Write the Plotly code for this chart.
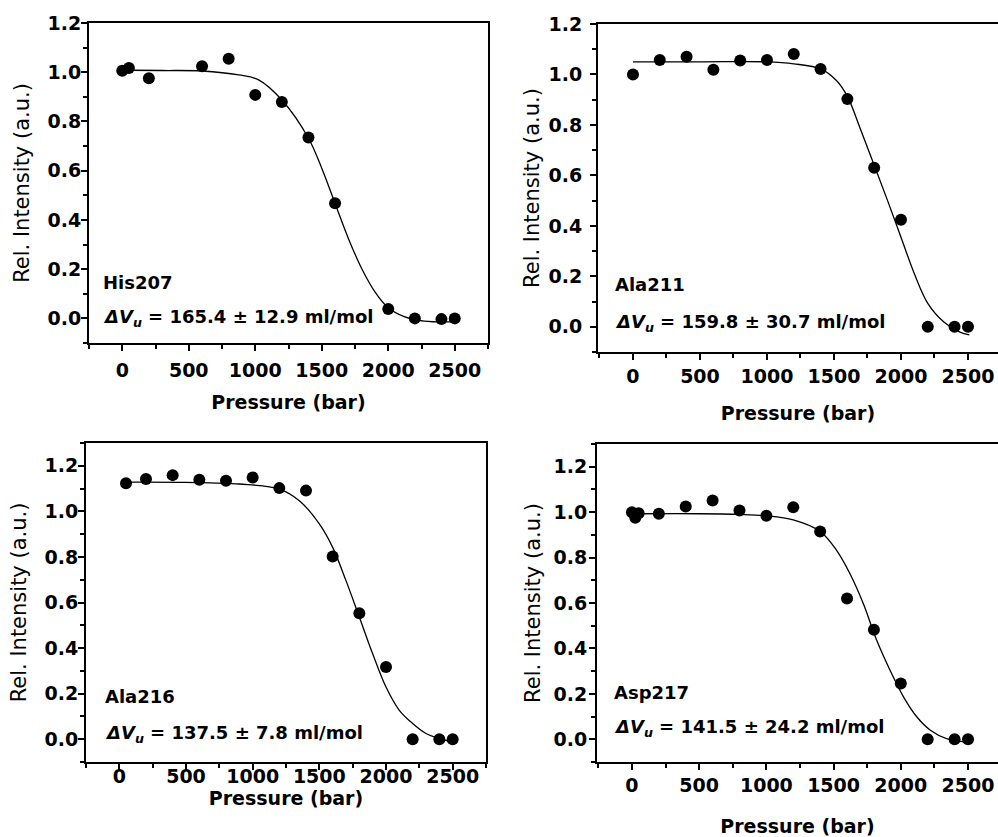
import plotly.graph_objects as go

# measured points (pressure in bar, relative intensity)
his207_p = [0, 50, 200, 600, 800, 1000, 1200, 1400, 1600, 2000, 2200, 2400, 2500]
his207_i = [1.006, 1.017, 0.976, 1.024, 1.055, 0.908, 0.879, 0.735, 0.468, 0.038, 0.0, -0.003, 0.0]
ala211_p = [0, 200, 400, 600, 800, 1000, 1200, 1400, 1600, 1800, 2000, 2200, 2400, 2500]
ala211_i = [1.0, 1.057, 1.07, 1.019, 1.055, 1.057, 1.081, 1.022, 0.903, 0.63, 0.424, 0.0, 0.0, 0.0]
ala216_p = [50, 200, 400, 600, 800, 1000, 1200, 1400, 1600, 1800, 2000, 2200, 2400, 2500]
ala216_i = [1.123, 1.142, 1.159, 1.139, 1.134, 1.149, 1.102, 1.091, 0.802, 0.553, 0.317, 0.0, 0.0, 0.0]
asp217_p = [0, 25, 50, 200, 400, 600, 800, 1000, 1200, 1400, 1600, 1800, 2000, 2200, 2400, 2500]
asp217_i = [1.0, 0.975, 0.995, 0.993, 1.025, 1.051, 1.007, 0.984, 1.022, 0.915, 0.62, 0.482, 0.246, 0.0, 0.0, 0.0]

# fitted two-state curves
his207_fit_p = [50, 300, 600, 876, 1025, 1200, 1400, 1500, 1600, 1700, 1800, 1900, 2000, 2120, 2270, 2500]
his207_fit_i = [1.008, 1.007, 1.005, 0.989, 0.969, 0.887, 0.732, 0.61, 0.467, 0.325, 0.203, 0.108, 0.043, 0.007, -0.011, -0.014]
ala211_fit_p = [0, 500, 1000, 1200, 1400, 1520, 1600, 1700, 1800, 1900, 2000, 2100, 2200, 2320, 2440, 2510]
ala211_fit_i = [1.05, 1.05, 1.05, 1.042, 1.022, 0.975, 0.913, 0.78, 0.64, 0.5, 0.355, 0.21, 0.093, 0.019, -0.021, -0.032]
ala216_fit_p = [50, 500, 900, 1200, 1350, 1500, 1600, 1700, 1800, 1900, 2000, 2100, 2200, 2300, 2400, 2500]
ala216_fit_i = [1.128, 1.127, 1.12, 1.098, 1.047, 0.945, 0.842, 0.696, 0.536, 0.375, 0.229, 0.127, 0.069, 0.025, 0.003, -0.012]
asp217_fit_p = [60, 500, 800, 1000, 1200, 1400, 1520, 1620, 1720, 1820, 1920, 2020, 2120, 2220, 2340, 2490]
asp217_fit_i = [0.993, 0.993, 0.99, 0.984, 0.966, 0.915, 0.834, 0.731, 0.599, 0.437, 0.304, 0.187, 0.098, 0.04, 0.003, -0.012]

residues = ['His207', 'Ala211', 'Ala216', 'Asp217']
delta_v = ['165.4 ± 12.9', '159.8 ± 30.7', '137.5 ± 7.8', '141.5 ± 24.2']

W, H = 998, 837

def px_x(a, b):
    return [a / W, b / W]

def px_y(top, bottom):
    return [(H - bottom) / H, (H - top) / H]

# the four panels were pasted together from separate exports, so spacing differs a bit
panels = [
    dict(p=his207_p, i=his207_i, fp=his207_fit_p, fi=his207_fit_i,
         dx=px_x(89, 488), dy=px_y(23, 343), xr=[-250, 2750], yr=[-0.1, 1.2], right=False,
         lab_y=(0.146, 0.0), lab_x=-160, x_std=16, tick_std=3, y_std=12, ytick_std=-4),
    dict(p=ala211_p, i=ala211_i, fp=ala211_fit_p, fi=ala211_fit_i,
         dx=px_x(598, 998), dy=px_y(24, 352), xr=[-261, 2724], yr=[-0.1, 1.2], right=True,
         lab_y=(0.166, 0.015), lab_x=-150, x_std=21, tick_std=0, y_std=3, ytick_std=4),
    dict(p=ala216_p, i=ala216_i, fp=ala216_fit_p, fi=ala216_fit_i,
         dx=px_x(86, 486), dy=px_y(443, 762), xr=[-250, 2750], yr=[-0.1, 1.3], right=False,
         lab_y=(0.188, 0.025), lab_x=-125, x_std=3, tick_std=-10, y_std=12, ytick_std=-4),
    dict(p=asp217_p, i=asp217_i, fp=asp217_fit_p, fi=asp217_fit_i,
         dx=px_x(597, 998), dy=px_y(444, 762), xr=[-260, 2723], yr=[-0.1, 1.3], right=True,
         lab_y=(0.207, 0.048), lab_x=-150, x_std=26, tick_std=-1, y_std=7, ytick_std=-2),
]

tick_font = dict(family='DejaVu Sans', size=19, color='black', weight='bold')
label_font = dict(family='DejaVu Sans', size=18, color='black', weight='bold')
fig = go.Figure()
annotations = []

for k, pn in enumerate(panels):
    n = '' if k == 0 else str(k + 1)
    xa, ya = 'x' + n, 'y' + n
    fig.add_trace(go.Scatter(x=pn['fp'], y=pn['fi'], xaxis=xa, yaxis=ya, mode='lines',
                             line=dict(color='black', width=1.3, shape='spline', smoothing=1.0),
                             showlegend=False, hoverinfo='skip'))
    fig.add_trace(go.Scatter(x=pn['p'], y=pn['i'], xaxis=xa, yaxis=ya, mode='markers',
                             marker=dict(color='black', size=12), showlegend=False,
                             name=residues[k]))
    fig.layout['xaxis' + n] = dict(
        domain=pn['dx'], range=pn['xr'], anchor=ya, tick0=0, dtick=500, automargin=False,
        ticks='outside', ticklen=6, tickwidth=1.5, tickcolor='black',
        minor=dict(dtick=250, ticklen=4, ticks='outside', tickwidth=1.5, tickcolor='black'),
        showline=True, linewidth=2, linecolor='black', mirror=True,
        showgrid=False, zeroline=False, tickfont=tick_font, ticklabelstandoff=pn['tick_std'],
        title=dict(text='Pressure (bar)', standoff=pn['x_std'],
                   font=dict(family='DejaVu Sans', size=19, color='black', weight='bold')))
    fig.layout['yaxis' + n] = dict(
        domain=pn['dy'], range=pn['yr'], anchor=xa, tick0=0, dtick=0.2, tickformat='.1f',
        automargin=False,
        ticks='outside', ticklen=6, tickwidth=1.5, tickcolor='black',
        minor=dict(dtick=0.1, ticklen=4, ticks='outside', tickwidth=1.5, tickcolor='black'),
        showline=True, linewidth=2, linecolor='black', mirror=not pn['right'],
        showgrid=False, zeroline=False, tickfont=tick_font, ticklabelstandoff=pn['ytick_std'],
        title=dict(text='Rel. Intensity (a.u.)', standoff=pn['y_std'],
                   font=dict(family='DejaVu Sans', size=21, color='black')))
    annotations.append(dict(x=pn['lab_x'], y=pn['lab_y'][0], xref=xa, yref=ya,
                            text=residues[k], showarrow=False, xanchor='left', yanchor='middle',
                            font=label_font))
    annotations.append(dict(x=pn['lab_x'], y=pn['lab_y'][1], xref=xa, yref=ya,
                            text='<i>ΔV</i><sub><i>u</i></sub> = ' + delta_v[k] + ' ml/mol',
                            showarrow=False, xanchor='left', yanchor='middle',
                            font=label_font))

fig.update_layout(width=W, height=H, margin=dict(l=0, r=0, t=0, b=0),
                  plot_bgcolor='white', paper_bgcolor='white', annotations=annotations)
# drop the browser's default body margin so the figure starts at the page corner
fig.write_html('out.html', config={'displayModeBar': False},
               post_script="document.body.style.margin='0';")
